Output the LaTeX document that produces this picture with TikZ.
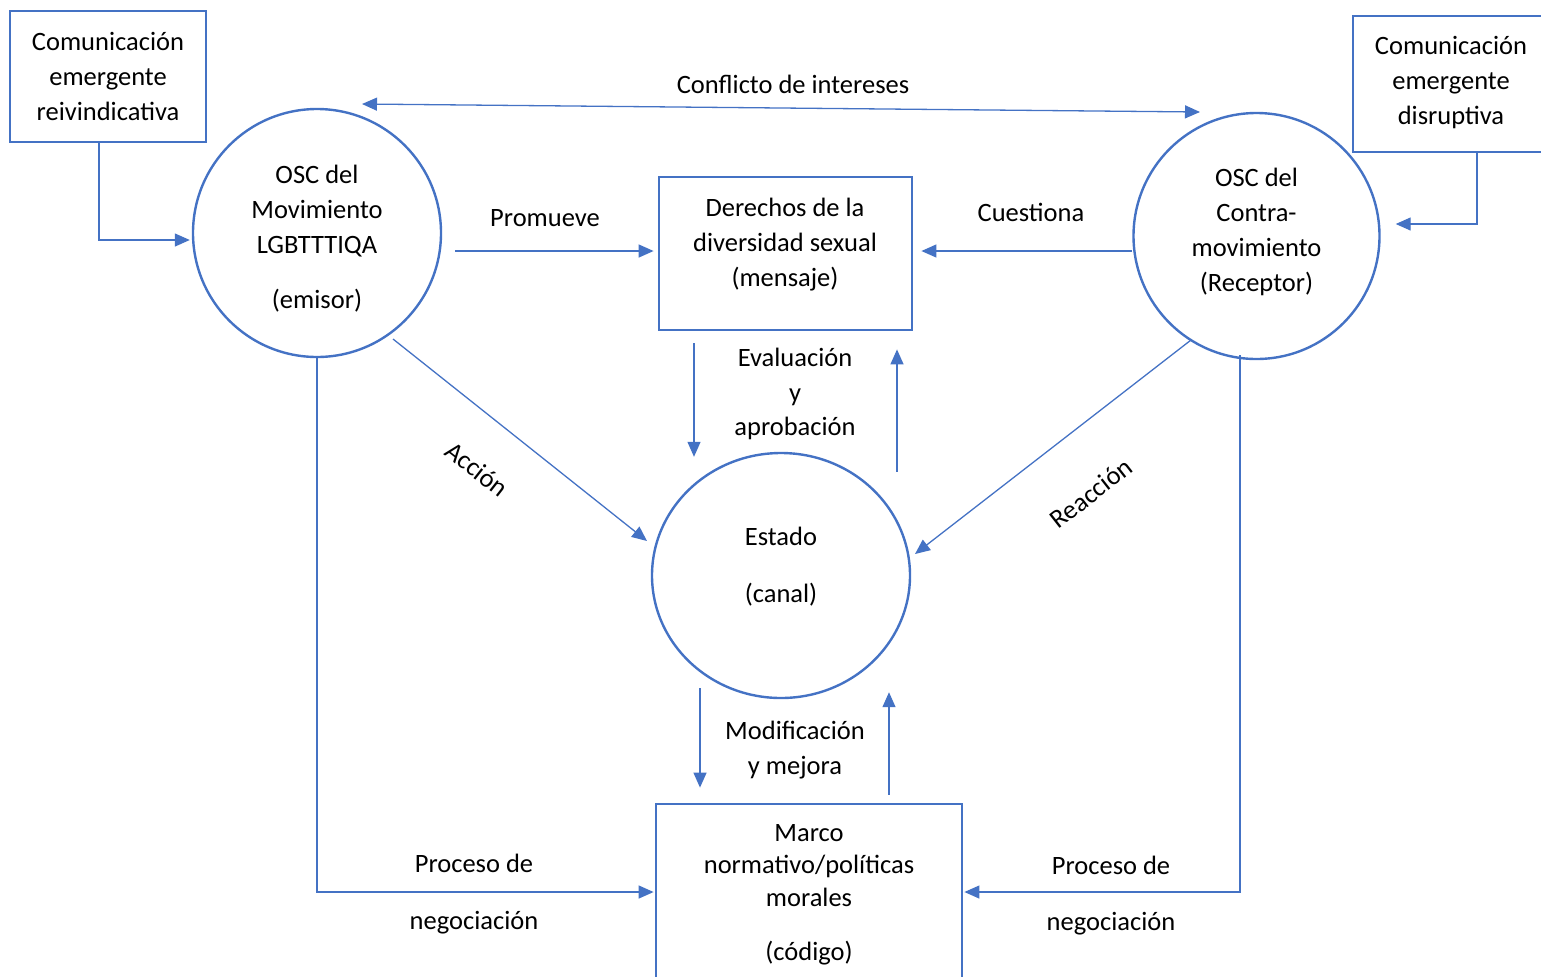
\documentclass[tikz,border=0pt]{standalone}
\usepackage{fontspec}
\setmainfont{Carlito}
\usetikzlibrary{arrows.meta,shapes.geometric,calc}
\definecolor{ob}{HTML}{4472C4}
\begin{document}
\begin{tikzpicture}[x=0.5pt,y=-0.5pt,
  boxshape/.style={draw=ob,line width=1.4pt,rectangle,inner sep=0pt},
  circshape/.style={draw=ob,line width=1.2pt,circle,inner sep=0pt},
  ellshape/.style={draw=ob,line width=1.2pt,ellipse,inner sep=0pt},
  txt/.style={inner sep=0pt,align=center,font=\fontsize{13.25}{17.5}\selectfont},
  conn/.style={draw=ob,line width=0.65pt,-{Triangle[length=7.5pt,width=6.5pt]}},
  dconn/.style={draw=ob,line width=0.65pt,{Triangle[length=7.5pt,width=6.5pt]}-{Triangle[length=7.5pt,width=6.5pt]}}]
\useasboundingbox (0,0) rectangle (1541,976);
\clip (0,0) rectangle (1541,976);
% shapes
\node[boxshape,minimum width=98pt,minimum height=65.5pt] (tl) at (108,76.5) {};
\node[boxshape,minimum width=98pt,minimum height=68pt] (tr) at (1451,84) {};
\node[circshape,minimum size=124pt] (cL) at (317,233) {};
\node[circshape,minimum size=123pt] (cR) at (1256.5,236) {};
\node[boxshape,minimum width=126.5pt,minimum height=76.5pt] (mb) at (785.5,253.5) {};
\node[ellshape,minimum width=129pt,minimum height=122.5pt] (est) at (781,575.5) {};
\node[boxshape,minimum width=153pt,minimum height=103pt] (bb) at (809,907) {};
% texts in shapes
\node[txt] (tlt) at (108,76) {Comunicación\\emergente\\reivindicativa};
\node[txt] (trt) at (1451,82.5) {Comunicación\\emergente\\disruptiva};
\node[txt] (cLt) at (317,238.5) {OSC del\\Movimiento\\LGBTTTIQA\\[10pt](emisor)};
\node[txt] (cRt) at (1256.5,231.5) {OSC del\\Contra-\\movimiento\\(Receptor)};
\node[txt] (mbt) at (785,245) {Derechos de la\\diversidad sexual\\(mensaje)};
\node[txt] (estt) at (781,567) {Estado\\[11pt](canal)};
\node[txt,font=\fontsize{13.25}{16.25}\selectfont] (bbt) at (809,894.5) {Marco\\normativo/políticas\\morales\\[10.75pt](código)};
% connectors
\draw[dconn] ($(cL.center)+(45,-129)$) -- ($(cR.center)+(-56.5,-124)$);
\draw[conn] ($(tl.south)+(-9,0)$) |- ($(cL.west)+(-2,7)$);
\draw[conn] ($(tr.south)+(26,0)$) |- ($(cR.east)+(15,-12)$);
\draw[conn] ($(cL.east)+(13,18)$) -- ($(mb.west)+(-4,-2.5)$);
\draw[conn] ($(cR.west)+(-0.5,15)$) -- ($(mb.east)+(8,-2.5)$);
\draw[conn] ($(mb.south)+(-91.5,12)$) -- ($(est.north)+(-87,5)$);
\draw[conn] ($(est.north)+(116,20)$) -- ($(mb.south)+(111.5,18)$);
\draw[conn] ($(cL.center)+(76,106)$) -- ($(est.center)+(-134,-34.5)$);
\draw[conn] ($(cR.center)+(-65.5,104)$) -- ($(est.center)+(134,-21.5)$);
\draw[conn] ($(est.south)+(-81,-11)$) -- ($(bb.north)+(-109,-15)$);
\draw[conn] ($(bb.north)+(80,-8)$) -- ($(est.south)+(108,-7)$);
\draw[conn] (cL.south) |- ($(bb.west)+(-1,-15)$);
\draw[conn] ($(cR.center)+(-16.5,119)$) |- ($(bb.east)+(1,-15)$);
% labels
\node[txt] (l1) at (793,84) {Conflicto de intereses};
\node[txt] (l2) at (545,218) {Promueve};
\node[txt] (l3) at (1031,212) {Cuestiona};
\node[txt,font=\fontsize{13.25}{17.25}\selectfont] (l4) at (795,394) {Evaluación\\y\\aprobación};
\node[txt,rotate=-38] (l5) at (477,469) {Acción};
\node[txt,rotate=38] (l6) at (1091,493) {Reacción};
\node[txt] (l7) at (795,750.5) {Modificación\\y mejora};
\node[txt] (l8) at (474,894.5) {Proceso de\\[11pt]negociación};
\node[txt] (l9) at (1111,896) {Proceso de\\[10.5pt]negociación};
\end{tikzpicture}
\end{document}
